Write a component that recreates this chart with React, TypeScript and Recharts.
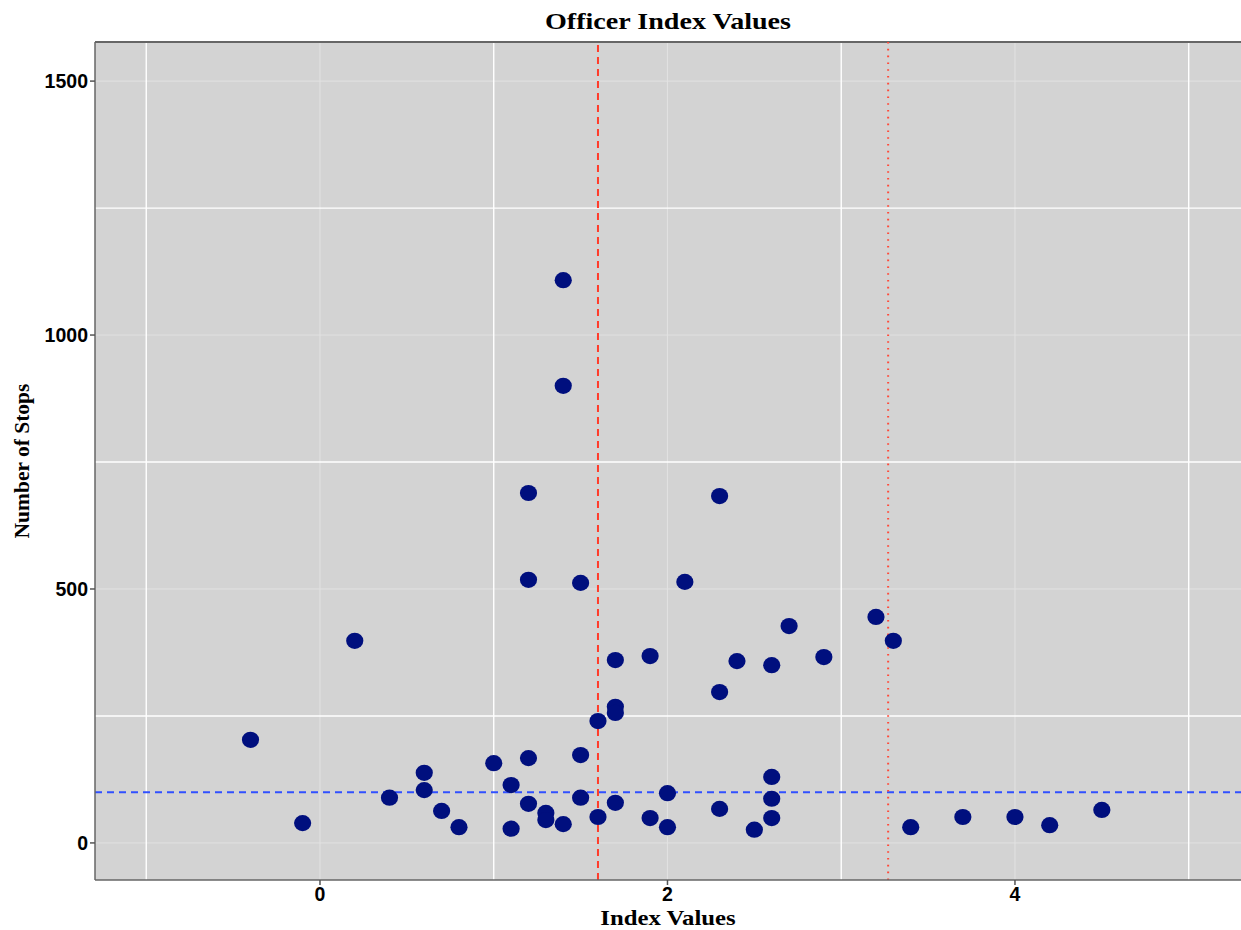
import React from "react";
import {
  ScatterChart,
  Scatter,
  XAxis,
  YAxis,
  CartesianGrid,
  ReferenceLine,
} from "recharts";

const indexValues = [
  -0.4, -0.1, 0.2, 0.4, 0.6, 0.6, 0.7, 0.8, 1.0, 1.1, 1.1, 1.2, 1.2, 1.2, 1.2,
  1.3, 1.3, 1.4, 1.4, 1.4, 1.5, 1.5, 1.5, 1.6, 1.6, 1.7, 1.7, 1.7, 1.7, 1.9,
  1.9, 2.0, 2.0, 2.1, 2.3, 2.3, 2.3, 2.4, 2.5, 2.6, 2.6, 2.6, 2.6, 2.7, 2.9,
  3.2, 3.3, 3.4, 3.7, 4.0, 4.2, 4.5,
];
const numberOfStops = [
  203, 39, 398, 89, 138, 104, 63, 31, 157, 114, 28, 167, 77, 689, 518, 59, 45,
  1108, 900, 37, 173, 89, 512, 240, 51, 268, 256, 360, 79, 368, 49, 98, 31,
  514, 683, 297, 67, 358, 26, 350, 130, 87, 49, 427, 366, 445, 398, 31, 51, 51,
  35, 65,
];

const xTicks = [0, 2, 4];
const yTicks = [0, 500, 1000, 1500];
const xMinorGrid = [-1, 1, 3, 5];
const yMinorGrid = [250, 750, 1250];
const hLine = 100;
const vDashed = 1.6;
const vDotted = 3.27;

const X_DOMAIN: [number, number] = [-1.295, 5.301];
const Y_DOMAIN: [number, number] = [-73, 1577];

const data = indexValues.map((x, i) => ({ x, y: numberOfStops[i] }));

const Dot = (props: any) => {
  const { cx, cy } = props;
  if (cx == null || cy == null) return null;
  return <ellipse cx={cx} cy={cy} rx={8.6} ry={8.1} fill="#000F7E" />;
};

const tickStyle = {
  fontFamily: "'Liberation Sans', Arial, sans-serif",
  fontWeight: 700,
  fontSize: 19.5,
  fill: "#000",
};

const serif = "'Liberation Serif', 'Times New Roman', serif";

export default function App() {
  return (
    <div
      style={{
        position: "absolute",
        left: 0,
        top: 0,
        width: 1241,
        height: 930,
        background: "#fff",
        overflow: "hidden",
      }}
    >
      <ScatterChart
        width={1241}
        height={930}
        margin={{ top: 42, right: 0, bottom: 0, left: 0 }}
      >
        <CartesianGrid horizontal={false} vertical={false} fill="#D3D3D3" />
        <XAxis
          type="number"
          dataKey="x"
          domain={X_DOMAIN}
          ticks={xTicks}
          allowDataOverflow
          height={50}
          tick={tickStyle}
          tickSize={5}
          tickLine={{ stroke: "#555", strokeWidth: 1.5 }}
          axisLine={{ stroke: "#666", strokeWidth: 1.5 }}
          interval={0}
        />
        <YAxis
          type="number"
          dataKey="y"
          domain={Y_DOMAIN}
          ticks={yTicks}
          allowDataOverflow
          width={95}
          tick={tickStyle}
          tickSize={5}
          tickLine={{ stroke: "#555", strokeWidth: 1.5 }}
          axisLine={{ stroke: "#666", strokeWidth: 1.5 }}
          interval={0}
        />
        {xTicks.map((v) => (
          <ReferenceLine key={"xg" + v} x={v} stroke="#E2E2E2" strokeWidth={1} />
        ))}
        {yTicks.map((v) => (
          <ReferenceLine key={"yg" + v} y={v} stroke="#E2E2E2" strokeWidth={1} />
        ))}
        {xMinorGrid.map((v) => (
          <ReferenceLine key={"xm" + v} x={v} stroke="#FFFFFF" strokeWidth={1.4} />
        ))}
        {yMinorGrid.map((v) => (
          <ReferenceLine key={"ym" + v} y={v} stroke="#FFFFFF" strokeWidth={1.4} />
        ))}
        <ReferenceLine y={Y_DOMAIN[1]} stroke="#666" strokeWidth={2} />
        <Scatter data={data} shape={Dot} isAnimationActive={false} />
        <ReferenceLine
          y={hLine}
          stroke="#3050FF"
          strokeWidth={2}
          strokeDasharray="7 5"
        />
        <ReferenceLine
          x={vDashed}
          stroke="#FF3B2A"
          strokeWidth={2}
          strokeDasharray="7 5"
        />
        <ReferenceLine
          x={vDotted}
          stroke="#FF4A3A"
          strokeWidth={2}
          strokeDasharray="1.6 5.2"
        />
      </ScatterChart>
      <div
        style={{
          position: "absolute",
          left: 668,
          top: 21,
          transform: "translate(-50%, -50%) scaleX(1.17)",
          whiteSpace: "nowrap",
          fontFamily: serif,
          fontWeight: 700,
          fontSize: 24,
          lineHeight: "26px",
          color: "#000",
        }}
      >
        Officer Index Values
      </div>
      <div
        style={{
          position: "absolute",
          left: 668,
          top: 918,
          transform: "translate(-50%, -50%) scaleX(1.15)",
          whiteSpace: "nowrap",
          fontFamily: serif,
          fontWeight: 700,
          fontSize: 21.5,
          lineHeight: "22px",
          color: "#000",
        }}
      >
        Index Values
      </div>
      <div
        style={{
          position: "absolute",
          left: 22,
          top: 461,
          transform: "translate(-50%, -50%) rotate(-90deg)",
          whiteSpace: "nowrap",
          fontFamily: serif,
          fontWeight: 700,
          fontSize: 21.5,
          lineHeight: "28px",
          color: "#000",
        }}
      >
        Number of Stops
      </div>
    </div>
  );
}
